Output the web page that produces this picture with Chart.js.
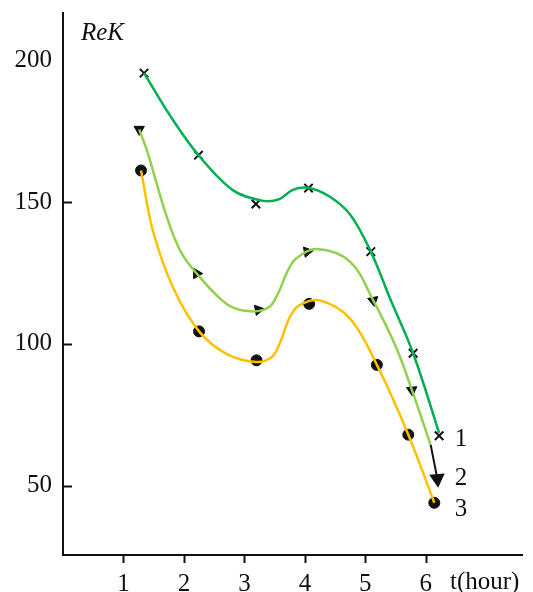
<!DOCTYPE html>
<html>
<head>
<meta charset="utf-8">
<script src="https://cdn.jsdelivr.net/npm/chart.js@4/dist/chart.umd.min.js"></script>
<style>
  html, body { margin: 0; padding: 0; background: #fff; }
  #wrap { width: 533px; height: 592px; position: relative; }
</style>
</head>
<body>
<div id="wrap"><canvas id="reChart"></canvas></div>
<script>
// tick labels
const xTicks = [1, 2, 3, 4, 5, 6];
const yTicks = [50, 100, 150, 200];
const yTickMarks = [50, 100, 150];

// measured points (markers)
const mark1X = [1.34, 2.24, 3.19, 4.06, 5.09, 5.79, 6.22];
const mark1Y = [195.4, 166.5, 149.3, 154.9, 132.5, 96.7, 67.6];
const mark2X = [1.26, 2.21, 3.23, 4.04, 5.13, 5.77];
const mark2Y = [175.6, 124.8, 112.0, 132.5, 115.3, 83.7];
const mark3X = [1.29, 2.25, 3.20, 4.07, 5.19, 5.71, 6.14];
const mark3Y = [161.1, 104.4, 94.2, 114.1, 92.6, 68.0, 44.0];

// fitted curves
const curve1X = [1.34, 1.79, 2.24, 2.82, 3.31, 3.58, 3.80, 4.05, 4.40, 4.75, 5.09, 5.41, 5.79, 6.22];
const curve1Y = [195.4, 179.8, 166.5, 154.0, 150.4, 151.0, 154.3, 155.0, 152.0, 145.5, 132.5, 115.9, 96.7, 68.6];
const curve2X = [1.26, 1.39, 1.72, 1.94, 2.21, 2.71, 3.09, 3.40, 3.55, 3.70, 3.85, 4.20, 4.75, 5.13, 5.52, 5.77, 6.08];
const curve2Y = [175.6, 168.0, 144.5, 132.8, 124.8, 114.0, 111.5, 112.8, 117.5, 125.0, 130.0, 133.4, 128.9, 115.3, 98.2, 83.7, 64.4];
const curve3X = [1.29, 1.49, 1.83, 2.25, 2.71, 3.20, 3.46, 3.60, 3.74, 3.90, 4.25, 4.75, 5.19, 5.71, 6.14];
const curve3Y = [161.1, 139.6, 119.4, 104.4, 96.4, 93.6, 95.5, 101.0, 109.0, 113.5, 115.3, 108.8, 92.6, 68.0, 44.0];

// black arrow continuing curve 2
const arrowX = [6.08, 6.19];
const arrowY = [64.4, 52.5];

const seriesNames = ['1', '2', '3'];
const seriesLabelY = [66.5, 52.5, 41.5];

const toPts = (xs, ys) => xs.map((x, i) => ({ x: x, y: ys[i] }));
const SERIF = '"Liberation Serif", "DejaVu Serif", serif';

const tickMarks = {
  id: 'tickMarks',
  afterDraw(chart) {
    const ctx = chart.ctx;
    const xs = chart.scales.x, ys = chart.scales.y;
    const area = chart.chartArea;
    ctx.save();
    ctx.strokeStyle = '#111';
    ctx.lineWidth = 2;
    yTickMarks.forEach(v => {
      const py = Math.round(ys.getPixelForValue(v)) + 0.5;
      ctx.beginPath();
      ctx.moveTo(area.left, py);
      ctx.lineTo(area.left + 9, py);
      ctx.stroke();
    });
    xTicks.forEach(v => {
      const px = Math.round(xs.getPixelForValue(v)) + 0.5;
      ctx.beginPath();
      ctx.moveTo(px, area.bottom);
      ctx.lineTo(px, area.bottom + 8);
      ctx.stroke();
    });
    ctx.fillStyle = '#111';
    ctx.textBaseline = 'middle';
    ctx.font = 'italic 25px ' + SERIF;
    ctx.textAlign = 'left';
    ctx.fillText('ReK', area.left + 18, 33);
    ctx.font = '25px ' + SERIF;
    ctx.fillText('t(hour)', 450, xs.bottom - 10);
    seriesNames.forEach((n, i) => {
      ctx.fillText(n, xs.getPixelForValue(6.48), ys.getPixelForValue(seriesLabelY[i]));
    });
    ctx.restore();
  }
};

const curveStyle = { showLine: true, borderWidth: 2.5, pointRadius: 0, tension: 0.35 };

new Chart(document.getElementById('reChart'), {
  type: 'scatter',
  data: {
    datasets: [
      { ...curveStyle, data: toPts(curve1X, curve1Y), borderColor: '#00b050' },
      { ...curveStyle, data: toPts(curve2X, curve2Y), borderColor: '#92d050' },
      { ...curveStyle, data: toPts(curve3X, curve3Y), borderColor: '#ffc000' },
      { data: toPts(arrowX, arrowY), showLine: true, borderColor: '#111', borderWidth: 2,
        pointRadius: [0, 7], pointStyle: 'triangle', pointRotation: 175,
        backgroundColor: '#111', pointBorderColor: '#111' },
      { data: toPts(mark1X, mark1Y), pointStyle: 'crossRot', pointRadius: 6, pointBorderWidth: 2,
        pointBorderColor: '#111', backgroundColor: '#111' },
      { data: toPts(mark2X, mark2Y), pointStyle: 'triangle', pointRadius: 6,
        pointRotation: [180, -30, 80, 80, 170, 175],
        pointBorderColor: '#111', backgroundColor: '#111' },
      { data: toPts(mark3X, mark3Y), pointStyle: 'circle', pointRadius: 5.5,
        pointBorderColor: '#111', backgroundColor: '#111' }
    ]
  },
  options: {
    responsive: true,
    maintainAspectRatio: false,
    animation: false,
    layout: { padding: { top: 13, right: 11, left: 0, bottom: 0 } },
    plugins: { legend: { display: false }, tooltip: { enabled: false } },
    scales: {
      x: {
        type: 'linear', min: 0, max: 7.59,
        afterBuildTicks: s => { s.ticks = xTicks.map(v => ({ value: v })); },
        afterFit: s => { s.height = 37; s.paddingLeft = 0; s.paddingRight = 0; },
        grid: { display: false, drawTicks: false },
        border: { display: true, color: '#111', width: 2 },
        ticks: { color: '#111', padding: 14, font: { family: SERIF, size: 25 } }
      },
      y: {
        type: 'linear', min: 25.6, max: 216.6,
        afterBuildTicks: s => { s.ticks = yTicks.map(v => ({ value: v })); },
        afterFit: s => { s.width = 63; s.paddingTop = 0; s.paddingBottom = 0; },
        grid: { display: false, drawTicks: false },
        border: { display: true, color: '#111', width: 2 },
        ticks: { color: '#111', padding: 11, font: { family: SERIF, size: 25 } }
      }
    }
  },
  plugins: [tickMarks]
});
</script>
</body>
</html>
